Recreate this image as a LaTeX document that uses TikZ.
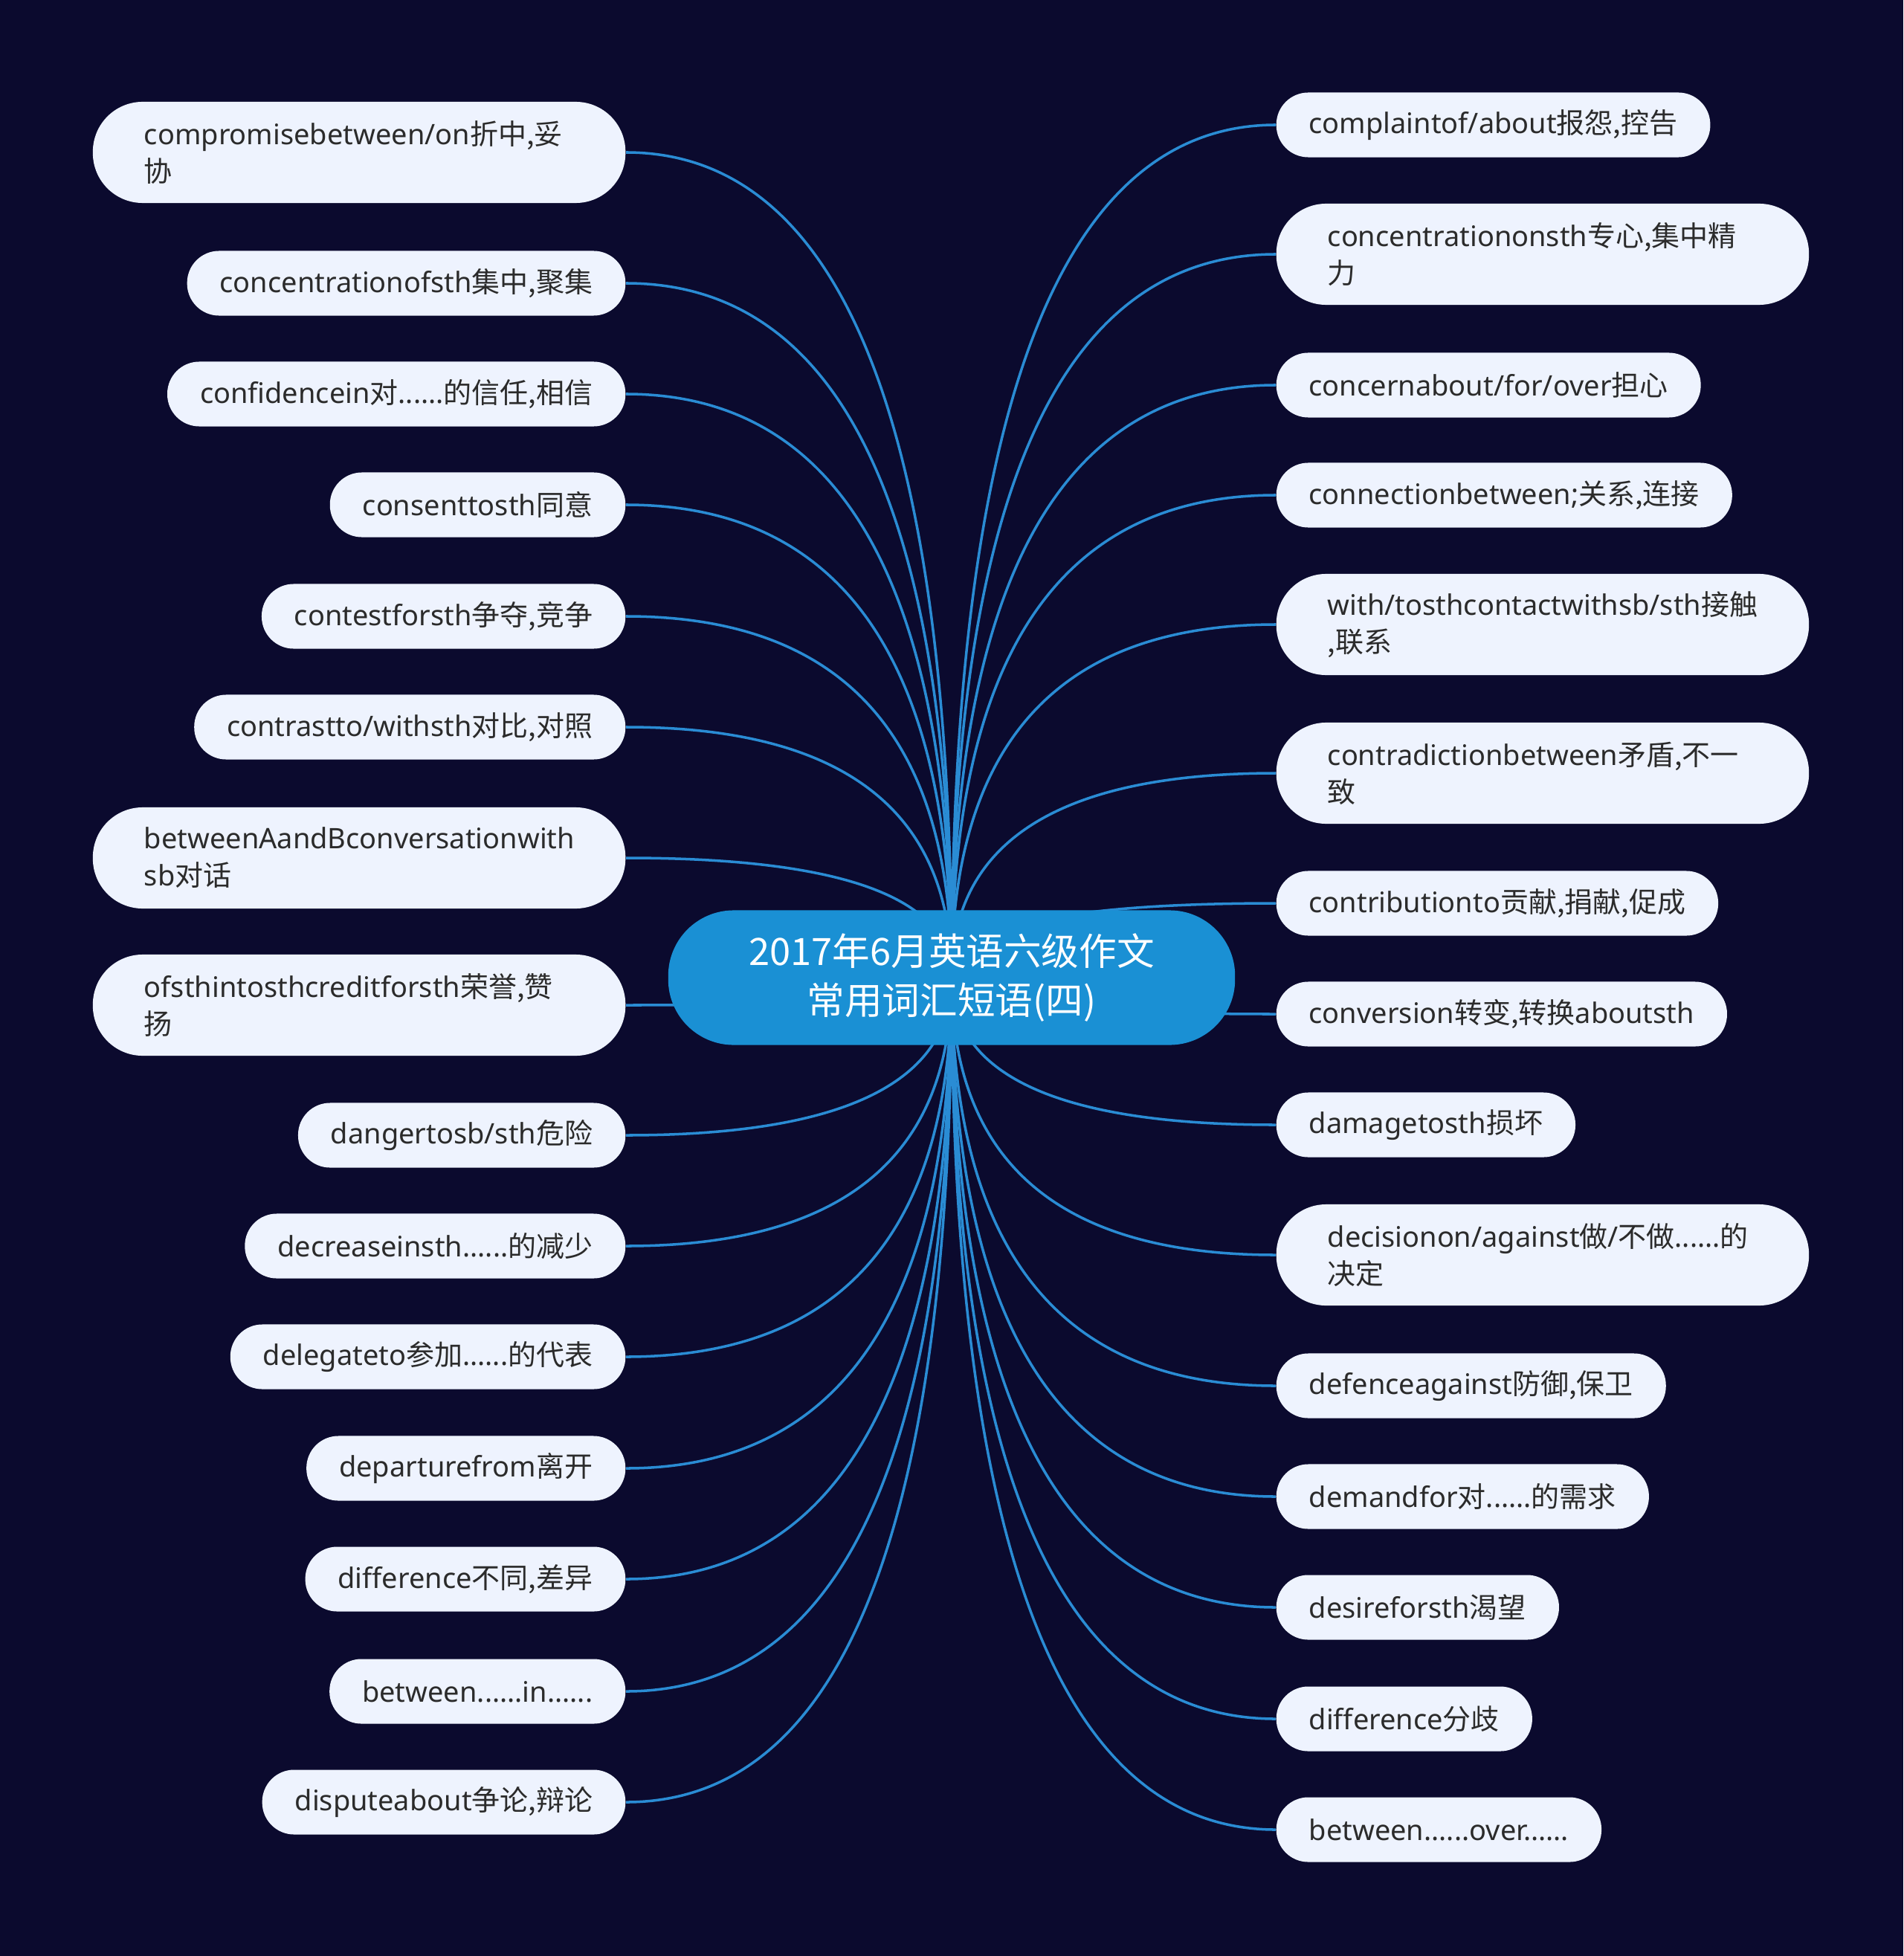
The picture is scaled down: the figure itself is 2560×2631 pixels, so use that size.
\documentclass[tikz,border=0pt]{standalone}
\usepackage{fontspec}
\usepackage{tikz}
\usetikzlibrary{calc,backgrounds}

\setmainfont{Noto Sans}
\newfontfamily\zhfont{Noto Sans CJK SC}
\newcommand{\zhs}[1]{{\zhfont #1}}
\hyphenpenalty=10000

\definecolor{bgnavy}{HTML}{0B0A2E}
\definecolor{leaffill}{HTML}{EEF3FE}
\definecolor{rootfill}{HTML}{1A90D4}
\definecolor{linkblue}{HTML}{2A8CD4}
\definecolor{leaftext}{HTML}{2B2B2B}

\begin{document}
\begin{tikzpicture}[x=0.01cm, y=-0.01cm,
    leaf/.style={fill=leaffill, text=leaftext, rounded corners=0.43cm, minimum height=0.87cm,
        inner xsep=0.44cm, inner ysep=0pt, font=\fontsize{10.8pt}{14.2pt}\selectfont},
    leaftwo/.style={leaf, rounded corners=0.67cm, minimum height=1.36cm, text width=5.78cm,
        inner xsep=0.69cm, align=left},
    root/.style={fill=rootfill, text=white, rounded corners=0.88cm, minimum width=7.62cm,
        minimum height=1.81cm, align=center, font=\fontsize{14.4pt}{19pt}\selectfont\zhfont},
    link/.style={draw=linkblue, line width=1pt}]

    \useasboundingbox (0,0) rectangle (2560,2631);

    % centre topic
    \node[root] (root) at (1280,1315) {2017年6月英语六级作文\\常用词汇短语(四)};

    % left branch
    \node[leaftwo, anchor=east] (l1) at (842,205) {compromisebetween/on\zhs{折中,妥}\\\zhs{协}};
    \node[leaf, anchor=east] (l2) at (842,381) {concentrationofsth\zhs{集中,聚集}};
    \node[leaf, anchor=east] (l3) at (842,530) {confidencein\zhs{对}......\zhs{的信任,相信}};
    \node[leaf, anchor=east] (l4) at (842,679) {consenttosth\zhs{同意}};
    \node[leaf, anchor=east] (l5) at (842,829) {contestforsth\zhs{争夺,竞争}};
    \node[leaf, anchor=east] (l6) at (842,978) {contrastto/withsth\zhs{对比,对照}};
    \node[leaftwo, anchor=east] (l7) at (842,1154) {betweenAandBconversationwith\\sb\zhs{对话}};
    \node[leaftwo, anchor=east] (l8) at (842,1352) {ofsthintosthcreditforsth\zhs{荣誉,赞}\\\zhs{扬}};
    \node[leaf, anchor=east] (l9) at (842,1527) {dangertosb/sth\zhs{危险}};
    \node[leaf, anchor=east] (l10) at (842,1676) {decreaseinsth......\zhs{的减少}};
    \node[leaf, anchor=east] (l11) at (842,1825) {delegateto\zhs{参加}......\zhs{的代表}};
    \node[leaf, anchor=east] (l12) at (842,1975) {departurefrom\zhs{离开}};
    \node[leaf, anchor=east] (l13) at (842,2124) {difference\zhs{不同,差异}};
    \node[leaf, anchor=east] (l14) at (842,2275) {between......in......};
    \node[leaf, anchor=east] (l15) at (842,2424) {disputeabout\zhs{争论,辩论}};

    % right branch
    \node[leaf, anchor=west] (r1) at (1716,168) {complaintof/about\zhs{报怨,控告}};
    \node[leaftwo, anchor=west] (r2) at (1716,342) {concentrationonsth\zhs{专心,集中精}\\\zhs{力}};
    \node[leaf, anchor=west] (r3) at (1716,518) {concernabout/for/over\zhs{担心}};
    \node[leaf, anchor=west] (r4) at (1716,666) {connectionbetween;\zhs{关系,连接}};
    \node[leaftwo, anchor=west] (r5) at (1716,840) {with/tosthcontactwithsb/sth\zhs{接触}\\\zhs{,联系}};
    \node[leaftwo, anchor=west] (r6) at (1716,1040) {contradictionbetween\zhs{矛盾,不一}\\\zhs{致}};
    \node[leaf, anchor=west] (r7) at (1716,1215) {contributionto\zhs{贡献,捐献,促成}};
    \node[leaf, anchor=west] (r8) at (1716,1364) {conversion\zhs{转变,转换}aboutsth};
    \node[leaf, anchor=west] (r9) at (1716,1513) {damagetosth\zhs{损坏}};
    \node[leaftwo, anchor=west] (r10) at (1716,1688) {decisionon/against\zhs{做}/\zhs{不做}......\zhs{的}\\\zhs{决定}};
    \node[leaf, anchor=west] (r11) at (1716,1864) {defenceagainst\zhs{防御,保卫}};
    \node[leaf, anchor=west] (r12) at (1716,2013) {demandfor\zhs{对}......\zhs{的需求}};
    \node[leaf, anchor=west] (r13) at (1716,2162) {desireforsth\zhs{渴望}};
    \node[leaf, anchor=west] (r14) at (1716,2312) {difference\zhs{分歧}};
    \node[leaf, anchor=west] (r15) at (1716,2461) {between......over......};

    \begin{pgfonlayer}{background}
        \fill[bgnavy] (0,0) rectangle (2560,2631);
        % curved links, bent at the corner below each leaf
        \foreach \i in {1,...,15} {
            \draw[link] (root.center) .. controls ($(root.center)!0.667!(root.center |- l\i.east)$)
                and ($(l\i.east)!0.667!(root.center |- l\i.east)$) .. (l\i.east);
            \draw[link] (root.center) .. controls ($(root.center)!0.667!(root.center |- r\i.west)$)
                and ($(r\i.west)!0.667!(root.center |- r\i.west)$) .. (r\i.west);
        }
    \end{pgfonlayer}
\end{tikzpicture}
\end{document}
